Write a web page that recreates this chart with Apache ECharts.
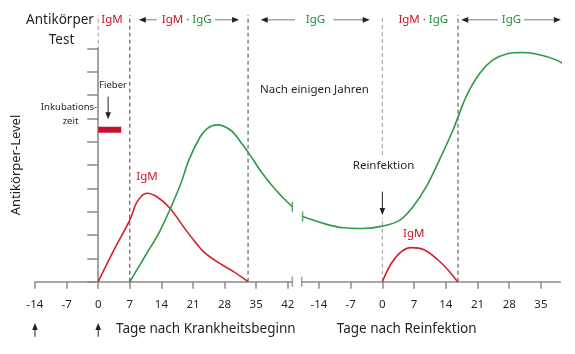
<!DOCTYPE html>
<html>
<head>
<meta charset="utf-8">
<script src="https://cdn.jsdelivr.net/npm/echarts@6/dist/echarts.min.js"></script>
<style>
  html, body { margin: 0; padding: 0; background: #fff; }
  #chart { width: 575px; height: 354px; }
</style>
</head>
<body>
<div id="chart"></div>
<script>
// 刻度（天）
const ticksFirst = [-14, -7, 0, 7, 14, 21, 28, 35, 42];
const ticksRe = [-14, -7, 0, 7, 14, 21, 28, 35];

// 曲线数据 [天, 抗体水平]
const igmFirst = [[0, 0], [3.5, 1.36], [7, 2.64], [8.7, 3.45], [10.8, 3.79], [13, 3.64], [15.8, 3.17],
  [19.4, 2.22], [21.5, 1.7], [23.3, 1.29], [26.3, 0.86], [30, 0.43], [33.2, 0]];
const iggFirst = [[7, 0], [10.4, 1.1], [13.8, 2.22], [18.1, 4.1], [20.1, 5.22], [22.6, 6.21], [24.2, 6.57],
  [26.3, 6.72], [29.3, 6.5], [31.5, 6.0], [33.4, 5.5], [36.1, 4.71], [39, 4.0], [41.3, 3.53], [43, 3.21]];
const igmRe = [[0, 0], [2, 0.79], [4.2, 1.29], [6.4, 1.46], [9.3, 1.36], [12.3, 0.93], [14.5, 0.5], [16.6, 0]];
const iggRe = [[-17.6, 2.79], [-13.1, 2.5], [-8.7, 2.31], [-4.3, 2.28], [0.1, 2.38], [3.8, 2.63], [6.75, 3.21],
  [9.7, 4.07], [12.6, 5.22], [15.6, 6.5], [18.5, 7.93], [21.5, 8.93], [24.4, 9.5], [27.4, 9.76], [31, 9.82],
  [34.7, 9.72], [38.4, 9.5], [40.6, 9.25]];
const incubation = [[0, 6.51], [5.1, 6.51]];

// 阶段分界线（天）
const phasesFirst = [0, 7, 33.2];
const phasesRe = [0, 16.7];

const FONT = '"Noto Sans", sans-serif';
const axisGrey = '#8a8a8a';
const RED = '#d3212b';
const GREEN = '#2f9a46';
const RED_TXT = '#cf1020';
const GREEN_TXT = '#1f8f3a';
const TOP = 11.43, HEAD = 11.22;

// 辅助线样式: 0 灰虚线, 1 深虚线, 2 黑箭头, 3 表头箭头
const guideStyles = [
  {color: '#9a9a9a', width: 1, dash: [4, 3], head: false},
  {color: '#444', width: 1, dash: [4, 3], head: false},
  {color: '#222', width: 1, dash: null, head: true},
  {color: '#777', width: 1, dash: null, head: true, headColor: '#222'}
];

function guideData(phases, extra) {
  const rows = [];
  phases.forEach((x, i) => { if (!(extra.gap && i === 0)) rows.push([x, 0, x, TOP, i === 0 ? 0 : 1]); });
  if (extra.gap) {
    rows.push([phases[0], 0, phases[0], extra.gap[0], 0]);
    rows.push([phases[0], extra.gap[1], phases[0], TOP, 0]);
  }
  (extra.arrows || []).forEach(a => rows.push([a[0], a[1], a[2], a[3], 2]));
  (extra.heads || []).forEach(a => rows.push([a[0], HEAD, a[1], HEAD, 3]));
  return rows;
}

function guideItem(params, api) {
  const p0 = api.coord([api.value(0), api.value(1)]);
  const p1 = api.coord([api.value(2), api.value(3)]);
  const st = guideStyles[api.value(4)];
  const children = [];
  let end = p1;
  if (st.head) {
    const dx = p1[0] - p0[0], dy = p1[1] - p0[1];
    const len = Math.sqrt(dx * dx + dy * dy) || 1;
    const ux = dx / len, uy = dy / len;
    const hl = 7, hw = 2.8;
    const bx = p1[0] - ux * hl, by = p1[1] - uy * hl;
    end = [bx + ux, by + uy];
    children.push({type: 'polygon', shape: {points: [[p1[0], p1[1]], [bx - uy * hw, by + ux * hw], [bx + uy * hw, by - ux * hw]]},
      style: {fill: st.headColor || st.color}});
  }
  children.unshift({type: 'line', shape: {x1: p0[0], y1: p0[1], x2: end[0], y2: end[1]},
    style: {stroke: st.color, lineWidth: st.width, lineDash: st.dash}});
  return {type: 'group', children};
}

function curve(name, data, color, gi) {
  return {name, type: 'line', xAxisIndex: gi, yAxisIndex: gi, data, smooth: 0.35, showSymbol: false,
    symbol: 'none', clip: false, lineStyle: {color, width: 1.6}, silent: true, z: 3};
}
function breakMark(data, color, gi) {
  return {type: 'scatter', xAxisIndex: gi, yAxisIndex: gi, data, symbol: 'rect', symbolSize: [1.5, 10],
    itemStyle: {color}, clip: false, silent: true, z: 4};
}

const chart = echarts.init(document.getElementById('chart'), null, {renderer: 'canvas'});

function xAxis(gi, min, max, ticks) {
  return {gridIndex: gi, type: 'value', min, max,
    axisLine: {onZero: false, lineStyle: {color: axisGrey, width: 1.5}},
    axisTick: {customValues: ticks, length: 7, lineStyle: {color: axisGrey, width: 1.5}},
    axisLabel: {customValues: ticks, margin: 17, fontSize: 11.5, color: '#231f20', fontFamily: FONT},
    splitLine: {show: false}};
}

function f(size) { return size + 'px ' + FONT; }
function txt(x, y, text, size, color, extra) {
  return Object.assign({type: 'text', x, y, silent: true,
    style: {text, font: f(size), fill: color || '#231f20', align: 'center', verticalAlign: 'middle'}}, extra || {});
}
const mixRich = {m: {fill: RED_TXT, font: f(11.5)}, d: {fill: '#444', font: f(11.5)}, g: {fill: GREEN_TXT, font: f(11.5)}};
function mixTxt(x, y) {
  return {type: 'text', x, y, silent: true,
    style: {text: '{m|IgM}{d| · }{g|IgG}', font: f(11.5), rich: mixRich, align: 'center', verticalAlign: 'middle'}};
}

const option = {
  animation: false,
  backgroundColor: '#fff',
  grid: [
    {left: 35, right: 282.7, top: 48.3, bottom: 72.3},
    {left: 301.7, right: 14.6, top: 48.3, bottom: 72.3}
  ],
  xAxis: [xAxis(0, -14, 43, ticksFirst), xAxis(1, -17.8, 39.3, ticksRe)],
  yAxis: [
    {gridIndex: 0, type: 'value', min: 0, max: 10, interval: 1, offset: -4,
      axisLine: {show: true, lineStyle: {color: axisGrey, width: 1.5}},
      axisTick: {show: true, length: 11, lineStyle: {color: axisGrey, width: 1.5}},
      axisLabel: {show: false}, splitLine: {show: false}},
    {gridIndex: 1, type: 'value', min: 0, max: 10, show: false, splitLine: {show: false}}
  ],
  series: [
    curve('IgM', igmFirst, RED, 0),
    curve('IgG', iggFirst, GREEN, 0),
    {name: 'Inkubationszeit', type: 'line', xAxisIndex: 0, yAxisIndex: 0, data: incubation, symbol: 'none',
      lineStyle: {color: '#c8102e', width: 6, cap: 'butt'}, silent: true, z: 3},
    curve('IgM', igmRe, RED, 1),
    curve('IgG', iggRe, GREEN, 1),
    breakMark([[43, 0]], axisGrey, 0),
    breakMark([iggFirst[iggFirst.length - 1]], GREEN, 0),
    breakMark([[-17.8, 0]], axisGrey, 1),
    breakMark([iggRe[0]], GREEN, 1),
    {type: 'custom', xAxisIndex: 0, yAxisIndex: 0, clip: false, silent: true, z: 2,
      encode: {x: [0, 2], y: [1, 3]}, renderItem: guideItem,
      data: guideData(phasesFirst, {
        arrows: [[2.2, 7.93, 2.2, 6.96], [-14, -2.36, -14, -1.77], [0, -2.36, 0, -1.77]],
        heads: [[13, 9], [25.9, 31.2], [43.6, 36]]
      })},
    {type: 'custom', xAxisIndex: 1, yAxisIndex: 1, clip: false, silent: true, z: 2,
      encode: {x: [0, 2], y: [1, 3]}, renderItem: guideItem,
      data: guideData(phasesRe, {
        gap: [2.75, 5.43],
        arrows: [[0, 3.86, 0, 2.86]],
        heads: [[-10.75, -2.8], [25.5, 17.4], [31.3, 39.4]]
      })}
  ],
  graphic: [
    txt(60, 20, 'Antikörper', 13.5),
    txt(61.5, 40, 'Test', 13.5),
    txt(112, 20, 'IgM', 11.5, RED_TXT),
    mixTxt(186.7, 20),
    txt(315.5, 20, 'IgG', 11.5, GREEN_TXT),
    mixTxt(423.3, 20),
    txt(511.5, 20, 'IgG', 11.5, GREEN_TXT),
    txt(113, 85, 'Fieber', 9.5),
    txt(69, 107, 'Inkubations-', 9.5),
    txt(70.5, 121, 'zeit', 9.5),
    txt(147, 177, 'IgM', 11.5, RED_TXT),
    txt(314.5, 90, 'Nach einigen Jahren', 11.5),
    txt(383.5, 166, 'Reinfektion', 11.5),
    txt(413.7, 234, 'IgM', 11.5, RED_TXT),
    txt(116, 329.3, 'Tage nach Krankheitsbeginn', 13.5),
    txt(406.7, 329.3, 'Tage nach Reinfektion', 13.5),
    txt(16.5, 165, 'Antikörper-Level', 13, null, {rotation: Math.PI / 2})
  ]
};
option.graphic[14].style.align = 'left';

chart.setOption(option);
window.addEventListener('resize', () => chart.resize());
</script>
</body>
</html>
